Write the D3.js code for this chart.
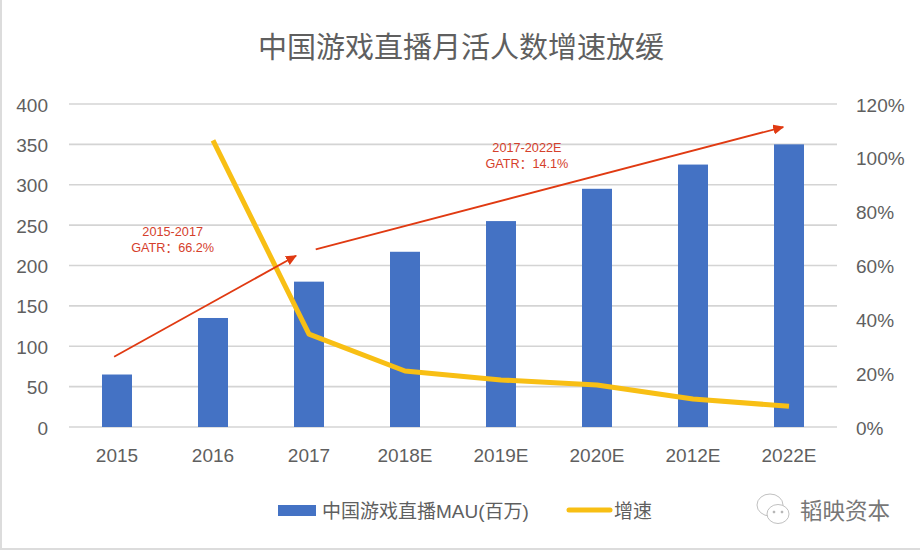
<html>
<head>
  <title>中国游戏直播月活人数增速放缓</title>
  <meta http-equiv="Content-Type" content="text/html; charset=utf-8" />
  <script src="https://cdn.jsdelivr.net/npm/d3@7"></script>
  <style>
    html, body { margin: 0; padding: 0; background: #fff; }
    text { font-family: "Liberation Sans", "Noto Sans CJK SC", sans-serif; }
  </style>
</head>
<body>
<div id="chart"></div>
<script type="text/javascript">
var titleText = "中国游戏直播月活人数增速放缓";
var categories = ["2015", "2016", "2017", "2018E", "2019E", "2020E", "2012E", "2022E"];
var mau = [65, 135, 180, 217, 255, 295, 325, 350];
var growth = [null, 1.065, 0.345, 0.208, 0.175, 0.156, 0.104, 0.077];
var leftTicks = [0, 50, 100, 150, 200, 250, 300, 350, 400];
var rightTicks = [0, 0.2, 0.4, 0.6, 0.8, 1.0, 1.2];
var barName = "中国游戏直播MAU(百万)";
var lineName = "增速";
var brandName = "韬映资本";
// annotations: arrow ends as [category position, MAU value]
var arrowA = [[-0.03, 87], [1.865, 212]];
var arrowB = [[2.07, 220], [6.94, 371.5]];
var noteA = {pos: 0.58, value: 237, lines: ["2015-2017", "GATR：66.2%"]};
var noteB = {pos: 4.27, value: 340, lines: ["2017-2022E", "GATR：14.1%"]};

var width = 920, height = 550;
var margin = {top: 104, right: 83, bottom: 123, left: 69};
var innerW = width - margin.left - margin.right;
var innerH = height - margin.top - margin.bottom;

var svg = d3.select("#chart").append("svg")
  .attr("width", width)
  .attr("height", height)
  .style("display", "block");

svg.append("rect").attr("width", width).attr("height", height).attr("fill", "#fff");

// thin grey frame left over from the screenshot
svg.append("path")
  .attr("d", "M1,0V549H" + width)
  .attr("fill", "none")
  .attr("stroke", "#dcdcdc")
  .attr("stroke-width", 2);

var g = svg.append("g").attr("transform", "translate(" + margin.left + "," + margin.top + ")");

var x = d3.scaleBand().domain(categories).range([0, innerW]);
var y = d3.scaleLinear().domain([0, 400]).range([innerH, 0]);
var y2 = d3.scaleLinear().domain([0, 1.2]).range([innerH, 0]);
var barW = x.bandwidth() * 0.3125;
var posX = function(p) { return x.bandwidth() * (p + 0.5); };

// gridlines
g.append("g").selectAll("line").data(leftTicks).enter().append("line")
  .attr("x1", 0).attr("x2", innerW)
  .attr("y1", function(d) { return y(d); })
  .attr("y2", function(d) { return y(d); })
  .attr("stroke", "#d4d4d4")
  .attr("stroke-width", 1.6);

// axes
var axisL = g.append("g")
  .call(d3.axisLeft(y).tickValues(leftTicks).tickSize(0).tickPadding(21));
var axisR = g.append("g")
  .attr("transform", "translate(" + innerW + ",0)")
  .call(d3.axisRight(y2).tickValues(rightTicks).tickSize(0).tickPadding(19).tickFormat(d3.format(".0%")));
var axisB = g.append("g")
  .attr("transform", "translate(0," + innerH + ")")
  .call(d3.axisBottom(x).tickSize(0).tickPadding(22));
[axisL, axisR, axisB].forEach(function(a) {
  a.select(".domain").remove();
  a.selectAll("text")
    .attr("fill", "#5f5f5f")
    .style("font-size", "19px");
});
axisL.selectAll("text").attr("dy", "0.37em");
axisR.selectAll("text").attr("dy", "0.37em");

// bars
g.append("g").selectAll("rect").data(mau).enter().append("rect")
  .attr("x", function(d, i) { return x(categories[i]) + (x.bandwidth() - barW) / 2; })
  .attr("y", function(d) { return y(d); })
  .attr("width", barW)
  .attr("height", function(d) { return innerH - y(d); })
  .attr("fill", "#4472c4");

// growth line
var line = d3.line()
  .defined(function(d) { return d !== null; })
  .x(function(d, i) { return x(categories[i]) + x.bandwidth() / 2; })
  .y(function(d) { return y2(d); });
g.append("path")
  .datum(growth)
  .attr("d", line)
  .attr("fill", "none")
  .attr("stroke", "#f8bf14")
  .attr("stroke-width", 5)
  .attr("stroke-linejoin", "round");

// red arrows
svg.append("defs").append("marker")
  .attr("id", "arrowHead")
  .attr("markerUnits", "userSpaceOnUse")
  .attr("markerWidth", 11).attr("markerHeight", 10)
  .attr("refX", 10).attr("refY", 5)
  .attr("orient", "auto")
  .append("path").attr("d", "M0,0L11,5L0,10Z").attr("fill", "#e03a12");

[arrowA, arrowB].forEach(function(a) {
  g.append("line")
    .attr("x1", posX(a[0][0])).attr("y1", y(a[0][1]))
    .attr("x2", posX(a[1][0])).attr("y2", y(a[1][1]))
    .attr("stroke", "#e03a12")
    .attr("stroke-width", 1.8)
    .attr("marker-end", "url(#arrowHead)");
});

// arrow notes
[noteA, noteB].forEach(function(n) {
  n.lines.forEach(function(t, i) {
    g.append("text")
      .attr("x", posX(n.pos))
      .attr("y", y(n.value) + i * 16)
      .attr("text-anchor", "middle")
      .attr("fill", "#d5402b")
      .style("font-size", "12.7px")
      .text(t);
  });
});

// title
svg.append("text")
  .attr("x", 461).attr("y", 58)
  .attr("text-anchor", "middle")
  .attr("fill", "#5f5f5f")
  .style("font-size", "29px")
  .text(titleText);

// legend
svg.append("rect").attr("x", 278).attr("y", 505).attr("width", 38).attr("height", 11).attr("fill", "#4472c4");
svg.append("text").attr("x", 322).attr("y", 518).attr("fill", "#5f5f5f").style("font-size", "19px").text(barName);
svg.append("line").attr("x1", 569).attr("x2", 610).attr("y1", 510).attr("y2", 510)
  .attr("stroke", "#f8bf14").attr("stroke-width", 5).attr("stroke-linecap", "round");
svg.append("text").attr("x", 614).attr("y", 518).attr("fill", "#5f5f5f").style("font-size", "19px").text(lineName);

// wechat style watermark
var mark = svg.append("g").attr("fill", "none").attr("stroke", "#b0b0b0").attr("stroke-width", 0.8);
mark.append("ellipse").attr("cx", 770).attr("cy", 505).attr("rx", 13).attr("ry", 11).attr("fill", "#fff");
mark.append("ellipse").attr("cx", 778).attr("cy", 514).attr("rx", 11).attr("ry", 9.5).attr("fill", "#fff");
mark.append("circle").attr("cx", 774).attr("cy", 512).attr("r", 1).attr("fill", "#b0b0b0");
mark.append("circle").attr("cx", 782).attr("cy", 512).attr("r", 1).attr("fill", "#b0b0b0");
svg.append("text").attr("x", 800).attr("y", 519)
  .attr("fill", "#777")
  .style("font-size", "22.5px")
  .style("font-family", "'Noto Sans CJK SC'")
  .text(brandName);
</script>
</body>
</html>
